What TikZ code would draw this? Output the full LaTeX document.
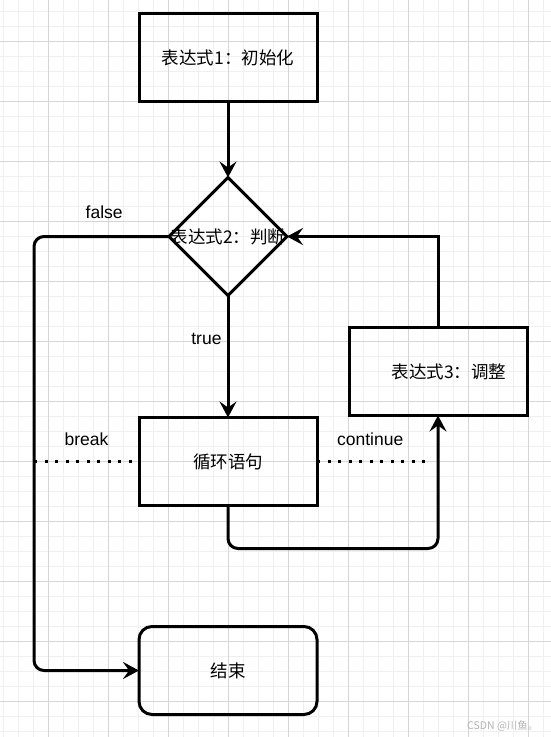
\documentclass[tikz,border=0pt]{standalone}
\usepackage{fontspec}
\setmainfont{Liberation Sans}
\newfontfamily\cjk{Noto Sans CJK SC}
\usetikzlibrary{arrows.meta, positioning, shapes.geometric}

\begin{document}
\begin{tikzpicture}[
  x=1pt, y=1pt,
  box/.style={draw, line width=3pt, minimum width=178pt, minimum height=88pt,
              inner sep=0pt, outer sep=0pt, align=center,
              font=\cjk\fontsize{17.5}{21}\selectfont},
  endbox/.style={box, rounded corners=13pt},
  test/.style={draw, diamond, line width=3pt, minimum width=118pt, minimum height=118pt,
               inner sep=0pt, outer sep=0pt},
  lbl/.style={inner sep=0pt, font=\fontsize{17.5}{21}\selectfont},
  cjklbl/.style={inner sep=0pt, font=\cjk\fontsize{17.5}{21}\selectfont},
  arr/.style={-{Stealth[length=16pt, width=17pt, inset=6pt]}, line width=3pt},
  dotline/.style={line width=3pt, dash pattern=on 3pt off 7.5pt},
  gridmin/.style={draw=black!6, line width=0.8pt},
  gridmaj/.style={draw=black!16, line width=0.8pt},
]

% Grid
\useasboundingbox (0,0) rectangle (551,-737);
\begin{scope}[shift={(48.5,-41.7)}]
  \draw[gridmin, step=15] (-48.5,41.7) grid (502.5,-695.3);
  \draw[gridmaj, step=60] (-48.5,41.7) grid (502.5,-695.3);
\end{scope}

% Steps
\node[box] (init) at (228,-57.5) {表达式1：初始化};
\node[test, below=76pt of init, label={[cjklbl]center:表达式2：判断}] (judge) {};
\node[box, below=122pt of judge] (loop) {循环语句};
\node[box, above right=2pt and 32pt of loop] (adjust) {\hspace*{22pt}表达式3：调整};
\node[endbox, below=121pt of loop] (end) {结束};
\coordinate[left=135pt of judge.west] (fl);

% Arrows
\draw[arr] (init) -- (judge);
\draw[arr] (judge) -- node[lbl, pos=.4, anchor=base east, xshift=-5pt] {true} (loop);
\draw[arr, rounded corners=10pt] (judge.west)
  -- node[lbl, pos=.48, anchor=base, yshift=18pt] {false} (fl) |- (end.west);
\draw[arr] (adjust.north) |- (judge.east);
\draw[arr, rounded corners=10pt] (loop.south) -- ++(0,-43) -| (adjust.south);
\draw[dotline] (loop.west -| fl) -- node[lbl, anchor=base, yshift=16pt] {break} (loop.west);
\draw[dotline, shorten >=6pt] (loop.east)
  -- node[lbl, pos=.44, anchor=base, yshift=16pt] {continue} (loop.east -| adjust.south);

\node[font=\cjk\fontsize{10.5}{12}\selectfont, text=black!30, anchor=east] (mark) at (542,-726) {CSDN @川鱼。};

\end{tikzpicture}
\end{document}
